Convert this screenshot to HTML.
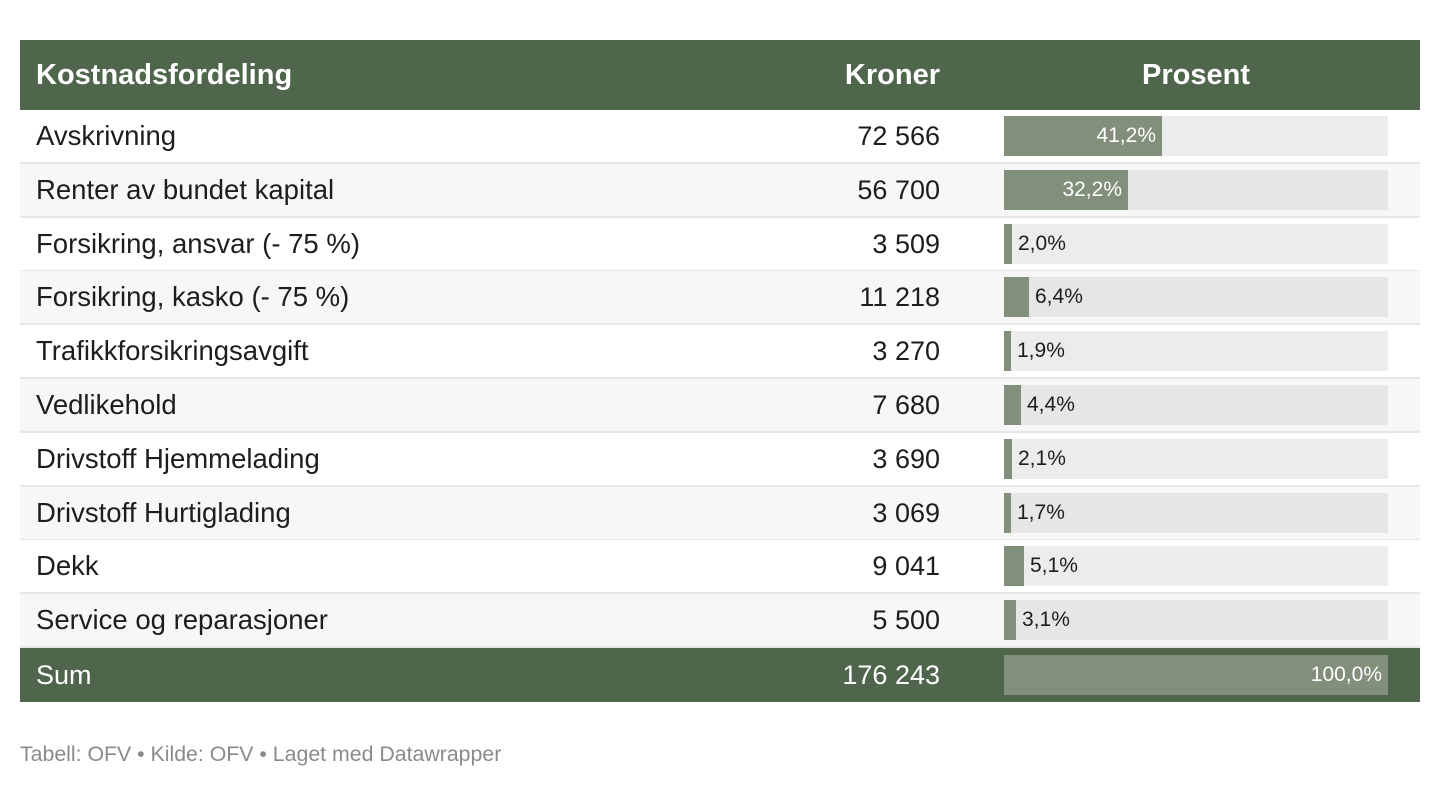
<!DOCTYPE html>
<html><head><meta charset="utf-8"><style>
body{margin:0;width:1440px;height:788px;background:#fff;font-family:"Liberation Sans",sans-serif;position:relative;overflow:hidden}
.r{position:absolute;left:20px;width:1400px;height:52px;border-bottom:2px solid #e6e6e6}
.l{position:absolute;left:16px;top:0;line-height:52px;font-size:27.5px;color:#1d1d1d}
.n{position:absolute;right:480px;top:0;line-height:52px;font-size:27px;color:#1d1d1d}
.bg{position:absolute;left:984px;top:6px;width:384px;height:40px;background:#ececec}
.b{position:absolute;left:0;top:0;height:40px;background:#828f7b}
.p{position:absolute;top:0;line-height:40px;font-size:21px;color:#1d1d1d}
</style></head><body>
<div style="position:absolute;left:20px;top:40px;width:1400px;height:70px;background:#4f664c;color:#fff;font-weight:bold;font-size:29px;line-height:70px">
<span style="position:absolute;left:16px">Kostnadsfordeling</span>
<span style="position:absolute;right:480px">Kroner</span>
<span style="position:absolute;left:1122px">Prosent</span>
</div>
<div id="rows"></div>
<div style="position:absolute;left:20px;top:648px;width:1400px;height:54px;background:#4f664c;color:#fff;font-size:27px;line-height:54px">
<span style="position:absolute;left:16px">Sum</span>
<span style="position:absolute;right:480px">176 243</span>
<div style="position:absolute;left:984px;top:7px;width:384px;height:40px;background:#828f7b"><span style="position:absolute;right:6px;line-height:40px;font-size:21px">100,0%</span></div>
</div>
<div style="position:absolute;left:20px;top:742px;font-size:21.3px;color:#8a8a8a">Tabell: OFV • Kilde: OFV • Laget med Datawrapper</div>
<script>
var d=[["Avskrivning","72 566",41.2],["Renter av bundet kapital","56 700",32.2],["Forsikring, ansvar (- 75 %)","3 509",2.0],["Forsikring, kasko (- 75 %)","11 218",6.4],["Trafikkforsikringsavgift","3 270",1.9],["Vedlikehold","7 680",4.4],["Drivstoff Hjemmelading","3 690",2.1],["Drivstoff Hurtiglading","3 069",1.7],["Dekk","9 041",5.1],["Service og reparasjoner","5 500",3.1]];
var h="";
d.forEach(function(x,i){
var w=Math.round(384*x[2]/100),t=(x[2]+"").replace(".",",");if(t.indexOf(",")<0)t+=",0";t+="%";
var lab=w>100?'<span class="p" style="right:'+(384-w+6)+'px;color:#fff">'+t+'</span>':'<span class="p" style="left:'+(w+6)+'px">'+t+'</span>';
h+='<div class="r" style="top:'+(110+i*53.8)+'px;background:'+(i%2?'#f7f7f7':'#fff')+'"><span class="l">'+x[0]+'</span><span class="n">'+x[1]+'</span><div class="bg" style="background:'+(i%2?'#e6e6e6':'#ececec')+'"><div class="b" style="width:'+w+'px"></div>'+lab+'</div></div>';
});
document.getElementById("rows").innerHTML=h;
</script>
</body></html>
